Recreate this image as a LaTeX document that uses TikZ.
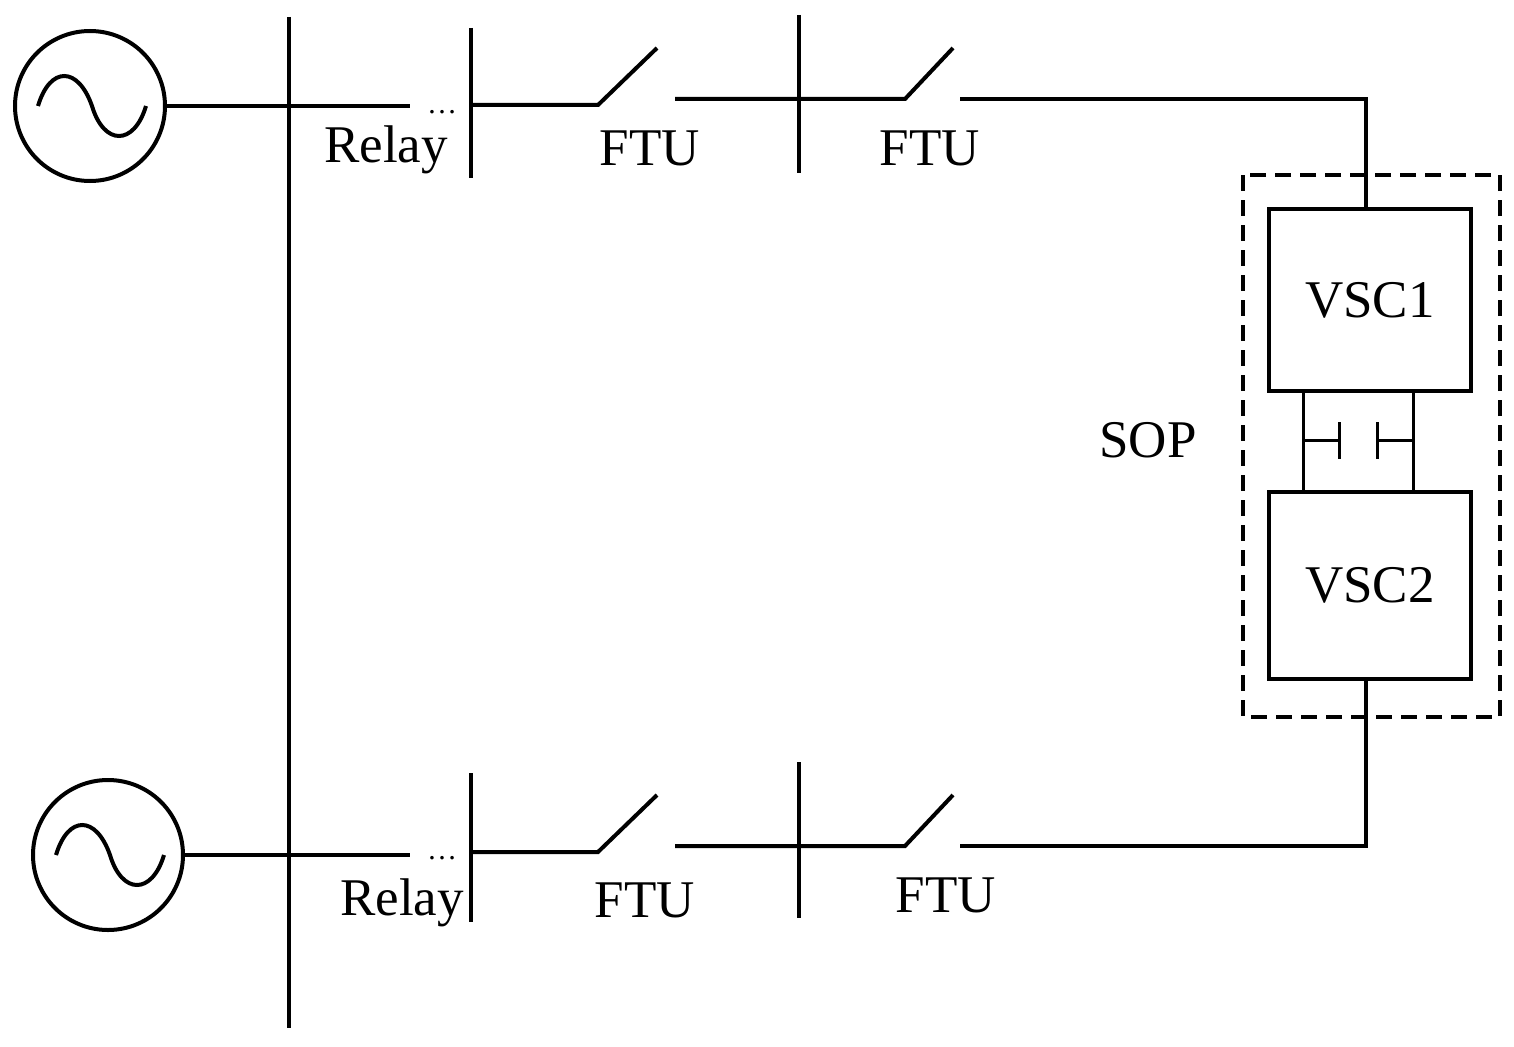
\documentclass[tikz,border=0pt]{standalone}
\usepackage{fontspec}
\setmainfont{Liberation Serif}
\begin{document}
\begin{tikzpicture}[x=1pt,y=-1pt,line width=4pt,
  lbl/.style={font=\fontsize{53}{53}\selectfont,inner sep=0pt},
  gen/.style={circle,draw,line width=4pt,minimum size=150pt,inner sep=0pt},
  box/.style={draw,line width=4pt,inner sep=0pt,anchor=north west}]
\useasboundingbox (0,0) rectangle (1514,1046);
% generators
\node[gen] (g1) at (90,106) {};
\node[gen] (g2) at (108,855) {};
\draw[line width=4pt] (38,106) .. controls (50,66) and (78,66) .. (92,106) .. controls (104,146) and (134,146) .. (146,106);
\draw[line width=4pt] (56,855) .. controls (68,815) and (96,815) .. (110,855) .. controls (122,895) and (152,895) .. (164,855);
% main bus
\coordinate (mb1) at (289,17); \coordinate (mb2) at (289,1028);
\draw (mb1) -- (mb2);
% top feeder
\coordinate (t0) at (410,106);
\draw (g1.east) -- (t0);
\coordinate (b1a) at (471,28); \coordinate (b1b) at (471,178);
\draw (b1a) -- (b1b);
\coordinate (s1a) at (598,105); \coordinate (s1b) at (657,48);
\draw (471,105) -- (s1a) -- (s1b);
\coordinate (b2a) at (799,15); \coordinate (b2b) at (799,173);
\draw (b2a) -- (b2b);
\coordinate (s2a) at (905,99); \coordinate (s2b) at (953,48);
\draw (675,99) -- (s2a) -- (s2b);
% bottom feeder
\coordinate (u0) at (410,855);
\draw (g2.east) -- (u0);
\draw (471,773) -- (471,922);
\draw (471,852) -- (598,852) -- (657,795);
\draw (799,762) -- (799,918);
\draw (675,846) -- (905,846) -- (953,795);
% SOP
\node[box,minimum width=202pt,minimum height=182pt] (v1) at (1267,207) {};
\node[lbl] at (v1.center) {VSC1};
\node[box,minimum width=202pt,minimum height=187pt] (v2) at (1267,490) {};
\node[lbl] at (v2.center) {VSC2};
\draw[dash pattern=on 16pt off 9pt,line width=3.5pt] (1243,175) rectangle (1500,717);
\draw (960,99) -- (1366,99) -- (v1.north -| 1366,0);
\draw (960,846) -- (1366,846) -- (v2.south -| 1366,0);
\begin{scope}[line width=3pt]
\draw (1303,389) -- (1303,490);
\draw (1413,389) -- (1413,490);
\draw (1303,440) -- (1339,440); \draw (1339,422) -- (1339,459);
\draw (1413,440) -- (1377,440); \draw (1377,422) -- (1377,459);
\end{scope}
\node[lbl] (sop) at (1148,440) {SOP};
% labels
\node[lbl] (r1) at (386,150) {Relay};
\node[lbl,font=\fontsize{30}{30}\selectfont] (d1) at (442,112) {\dots};
\node[lbl] (r2) at (402,903) {Relay};
\node[lbl,font=\fontsize{30}{30}\selectfont] (d2) at (442,858) {\dots};
\node[lbl] (f1) at (650,148) {FTU};
\node[lbl] (f2) at (930,148) {FTU};
\node[lbl] (f3) at (645,900) {FTU};
\node[lbl] (f4) at (946,895) {FTU};
\end{tikzpicture}
\end{document}
